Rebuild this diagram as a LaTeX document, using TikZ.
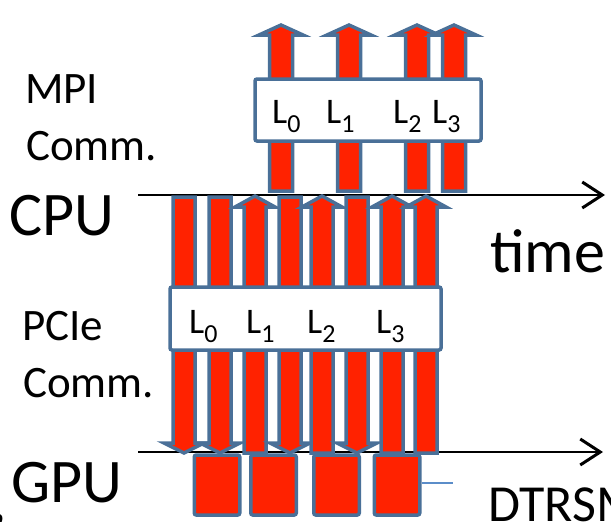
\documentclass[tikz,border=0pt]{standalone}
\usepackage{fontspec}
\setmainfont{Carlito}
\usetikzlibrary{arrows.meta, positioning}

\definecolor{barred}{RGB}{255,34,0}
\definecolor{barblue}{RGB}{74,112,152}
\definecolor{tickblue}{RGB}{91,141,201}

\newcommand{\Lsub}[1]{L\raisebox{-9pt}{\fontsize{26}{26}\selectfont #1}}

\begin{document}
\begin{tikzpicture}[
            x = 1pt, y = -1pt,
            blockarrow/.style = {
                fill       = barred,
                draw       = barblue,
                line width = 3.5pt
            },
            commbox/.style = {
                rectangle,
                rounded corners = 2pt,
                draw            = barblue,
                fill            = white,
                line width      = 3.5pt,
                inner sep       = 0pt
            },
            gpublock/.style = {
                blockarrow,
                rectangle,
                rounded corners = 2pt,
                inner sep       = 0pt,
                minimum width   = 45.5pt,
                minimum height  = 60pt
            },
            timeaxis/.style = {
                line width = 2pt,
                -{Straight Barb[length=20pt, width=26pt, line width=3pt]}
            },
            biglabel/.style  = {anchor = base west, inner sep = 0pt, font = \fontsize{62}{70}\selectfont},
            sidelabel/.style = {anchor = base west, inner sep = 0pt, font = \fontsize{45}{54}\selectfont},
            lvl/.style       = {anchor = base west, inner sep = 0pt, font = \fontsize{36}{40}\selectfont}
        ]
            \useasboundingbox (0,0) rectangle (611,522);

            % time axes
            \coordinate (cpu0) at (138,195);
            \coordinate (cpu1) at (605,195);
            \coordinate (gpu0) at (138,452);
            \coordinate (gpu1) at (603,452);
            \draw[timeaxis] (cpu0) -- (cpu1);
            \draw[timeaxis] (gpu0) -- (gpu1);

            % DTRSM kernels on the GPU
            \node[gpublock] (k0) at (217,485)   {};
            \node[gpublock] (k1) at (273.5,485) {};
            \node[gpublock] (k2) at (336.5,485) {};
            \node[gpublock] (k3) at (397,485)   {};

            % MPI transfers
            \foreach \c in {281,349,417,454}
                \draw[blockarrow]
                    ({\c-11.5},191) -- ({\c-11.5},35) -- ({\c-22},35) -- (\c,25)
                    -- ({\c+22},35) -- ({\c+11.5},35) -- ({\c+11.5},191) -- cycle;

            \node[commbox, minimum width = 226pt, minimum height = 62pt] (mpibox) at (368,110) {};
            \node[lvl] (m0) at (272,123) {\Lsub{0}};
            \node[lvl] (m1) at (326,123) {\Lsub{1}};
            \node[lvl] (m2) at (393,123) {\Lsub{2}};
            \node[lvl] (m3) at (432,123) {\Lsub{3}};

            % PCIe transfers (down: CPU to GPU, up: GPU to CPU)
            \foreach \c in {184,220,255,290,322,357,392,426} {
                \ifnum\c=255 \def\dir{1}\else\ifnum\c=322 \def\dir{1}\else
                \ifnum\c=392 \def\dir{1}\else\ifnum\c=426 \def\dir{1}\else
                \def\dir{0}\fi\fi\fi\fi
                \ifnum\dir=1
                    \draw[blockarrow]
                        ({\c-11},453) -- ({\c-11},207) -- ({\c-20},207) -- (\c,196)
                        -- ({\c+20},207) -- ({\c+11},207) -- ({\c+11},453) -- cycle;
                \else
                    \draw[blockarrow]
                        ({\c-11},197) -- ({\c-11},443) -- ({\c-20},443) -- (\c,453)
                        -- ({\c+20},443) -- ({\c+11},443) -- ({\c+11},197) -- cycle;
                \fi
            }

            \node[commbox, minimum width = 271pt, minimum height = 63pt] (pciebox) at (305.5,318.5) {};
            \node[lvl] (p0) at (189,333) {\Lsub{0}};
            \node[lvl] (p1) at (246,333) {\Lsub{1}};
            \node[lvl] (p2) at (307,333) {\Lsub{2}};
            \node[lvl] (p3) at (376,333) {\Lsub{3}};

            % labels
            \node[sidelabel] (mpi)      at (25,103) {MPI};
            \node[sidelabel] (mpicomm)  at (26,160) {Comm.};
            \node[biglabel]  (cpu)      at (9,235)  {CPU};
            \node[biglabel]  (time)     at (490,272) {time};
            \node[sidelabel] (pcie)     at (22,340) {PCIe};
            \node[sidelabel] (pciecomm) at (23,397) {Comm.};
            \node[biglabel]  (gpu)      at (11,502) {GPU};
            \node[biglabel]  (cut)      at (-9,521) {,};
            \node[anchor = base west, inner sep = 0pt, font = \fontsize{52}{60}\selectfont]
                (dtrsm) at (488,521) {DTRSM};

            \draw[tickblue, line width = 1.5pt] ([yshift=2pt]k3.east) -- ++(31,0);
        \end{tikzpicture}
\end{document}
